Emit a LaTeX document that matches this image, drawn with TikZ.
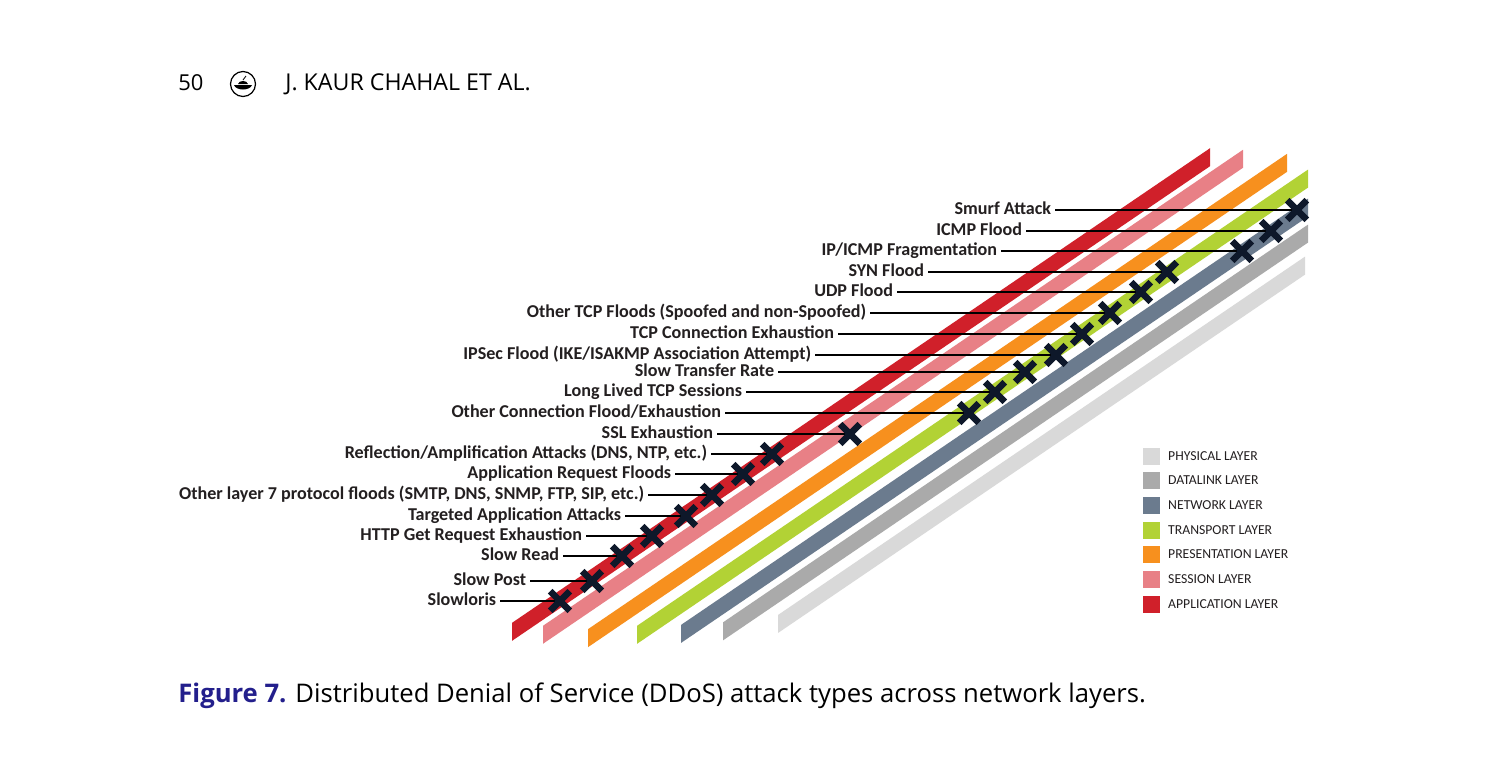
\documentclass[tikz,border=0pt]{standalone}
\usepackage{fontspec}
\setmainfont{Carlito}
\newfontfamily\headfont{Open Sans}
\usetikzlibrary{shapes.misc}
\usetikzlibrary{positioning}

\definecolor{physical}{RGB}{217,217,217}
\definecolor{datalink}{RGB}{170,170,170}
\definecolor{network}{RGB}{107,123,142}
\definecolor{transport}{RGB}{178,210,53}
\definecolor{presentation}{RGB}{247,144,30}
\definecolor{session}{RGB}{232,128,134}
\definecolor{application}{RGB}{208,32,42}
\definecolor{hitnavy}{RGB}{14,24,42}
\definecolor{inktext}{RGB}{35,31,32}
\definecolor{figblue}{RGB}{35,31,140}

\begin{document}
\begin{tikzpicture}[x=0.02cm, y=-0.02cm,
		attack/.style={anchor=east, inner sep=2pt, text height=7pt, text depth=2pt, text=inktext, font=\bfseries\fontsize{10.3}{11}\selectfont},
		hit/.style={cross out, draw=hitnavy, line width=3.8pt, minimum size=0.26cm, inner sep=0pt},
		leader/.style={draw=black, line width=1pt},
		key/.style={minimum size=0.34cm, inner sep=0pt},
		keytext/.style={inner sep=0pt, text=inktext, font=\fontsize{7.8}{8}\selectfont}]
				\useasboundingbox (0,0) rectangle (1512,758);
				\fill[white] (0,0) rectangle (1512,758);
				
				% Running head
				\node[anchor=base west, inner sep=0pt, font=\headfont\fontsize{12.5}{14}\selectfont] (pagenum) at (178,90) {50};
				\node[circle, draw=black, line width=0.7pt, minimum size=0.5cm, inner sep=0pt] (logo) at (243,84) {};
				\begin{scope}[shift={(logo.center)}]
					\fill (-9,1) -- (9,1) .. controls (7,7) and (-7,7) .. (-9,1) -- cycle;
					\fill (-5,0) .. controls (-4,-4) and (4,-4) .. (5,0) -- cycle;
					\draw[line width=0.5pt] (0,-4) .. controls (1,-6) .. (3,-8);
				\end{scope}
				\node[anchor=base west, inner sep=0pt, font=\headfont\fontsize{13.2}{15}\selectfont] (runhead) at (285,90) {J. KAUR CHAHAL ET AL.};
				
				% Layers
				\foreach \xl/\xr/\c/\col in {778/1305/1153/physical, 723/1308/1123/datalink, 681/1308/1097/network, 637/1308/1068/transport, 588/1287/1038/presentation, 543/1243/1004/session, 512/1210/980/application} {
					\fill[\col] (\xl,{\c-0.68*\xl-9}) -- (\xr,{\c-0.68*\xr-9}) -- (\xr,{\c-0.68*\xr+9}) -- (\xl,{\c-0.68*\xl+9}) -- cycle;
				}
				
				% Attacks
				\node[attack] (l1) at (1055,210) {Smurf Attack};
				\node[attack] (l2) at (1026,231) {ICMP Flood};
				\node[attack] (l3) at (1001,251) {IP/ICMP Fragmentation};
				\node[attack] (l4) at (928,272) {SYN Flood};
				\node[attack] (l5) at (897,292) {UDP Flood};
				\node[attack] (l6) at (870,313) {Other TCP Floods (Spoofed and non-Spoofed)};
				\node[attack] (l7) at (838,334) {TCP Connection Exhaustion};
				\node[attack] (l8) at (815,355) {IPSec Flood (IKE/ISAKMP Association Attempt)};
				\node[attack] (l9) at (778,372) {Slow Transfer Rate};
				\node[attack] (l10) at (746,392) {Long Lived TCP Sessions};
				\node[attack] (l11) at (725,413) {Other Connection Flood/Exhaustion};
				\node[attack] (l12) at (717,434) {SSL Exhaustion};
				\node[attack] (l13) at (711,454) {Reflection/Amplification Attacks (DNS, NTP, etc.)};
				\node[attack] (l14) at (675,474) {Application Request Floods};
				\node[attack] (l15) at (648,495) {Other layer 7 protocol floods (SMTP, DNS, SNMP, FTP, SIP, etc.)};
				\node[attack] (l16) at (625,516) {Targeted Application Attacks};
				\node[attack] (l17) at (586,536) {HTTP Get Request Exhaustion};
				\node[attack] (l18) at (563,556) {Slow Read};
				\node[attack] (l19) at (530,581) {Slow Post};
				\node[attack] (l20) at (500,601) {Slowloris};
				
				% Marks on the layers
				\coordinate (m1) at (1297,210);
				\coordinate (m2) at (1271,231);
				\coordinate (m3) at (1242,251);
				\coordinate (m4) at (1167,272);
				\coordinate (m5) at (1141,292);
				\coordinate (m6) at (1110,313);
				\coordinate (m7) at (1082,334);
				\coordinate (m8) at (1056,355);
				\coordinate (m9) at (1025,372);
				\coordinate (m10) at (995,392);
				\coordinate (m11) at (969,413);
				\coordinate (m12) at (850,434);
				\coordinate (m13) at (772,454);
				\coordinate (m14) at (743,474);
				\coordinate (m15) at (712,495);
				\coordinate (m16) at (686,516);
				\coordinate (m17) at (652,536);
				\coordinate (m18) at (622,556);
				\coordinate (m19) at (592,581);
				\coordinate (m20) at (560,601);
				\foreach \i in {1,...,20} {
					\draw[leader] (l\i.east) -- (m\i);
					\node[hit] (x\i) at (m\i) {};
				}
				
				% Legend
				\foreach \name/\col/\y in {PHYSICAL/physical/456, DATALINK/datalink/480, NETWORK/network/505, TRANSPORT/transport/530, PRESENTATION/presentation/554, SESSION/session/579, APPLICATION/application/604} {
					\node[key, fill=\col] (k\col) at (1151,\y) {};
					\node[keytext, right=0.16cm of k\col] (t\col) {\name\ LAYER};
				}
				
				% Caption
				\node[anchor=base west, inner sep=0pt, font=\headfont\fontsize{14.6}{16}\selectfont] (caption) at (178,702) {\textcolor{figblue}{\bfseries Figure 7.} Distributed Denial of Service (DDoS) attack types across network layers.};
			\end{tikzpicture}
\end{document}
